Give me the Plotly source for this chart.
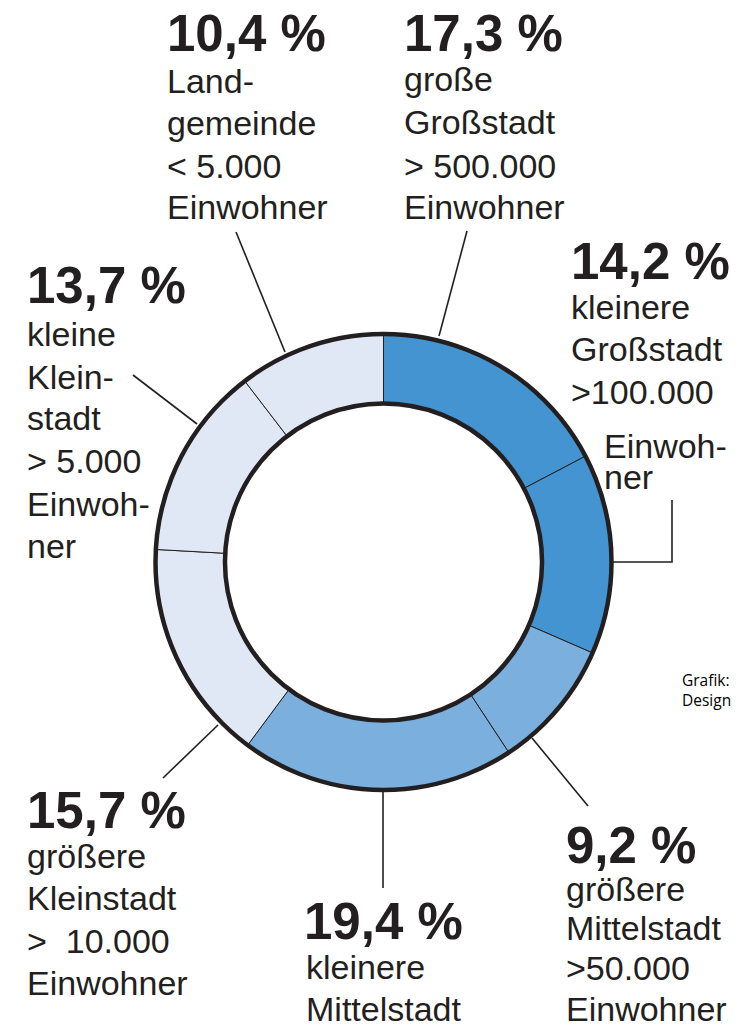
import plotly.graph_objects as go

# ---- data ----
categories = ["große Großstadt", "kleinere Großstadt", "größere Mittelstadt",
              "kleinere Mittelstadt", "größere Kleinstadt", "kleine Kleinstadt",
              "Landgemeinde"]
shares = [17.3, 14.2, 9.2, 19.4, 15.7, 13.7, 10.4]
pct_labels = ["17,3 %", "14,2 %", "9,2 %", "19,4 %", "15,7 %", "13,7 %", "10,4 %"]
desc_lines = [
    ["große", "Großstadt", "> 500.000", "Einwohner"],
    ["kleinere", "Großstadt", ">100.000", "Einwoh-", "ner"],
    ["größere", "Mittelstadt", ">50.000", "Einwohner"],
    ["kleinere", "Mittelstadt"],
    ["größere", "Kleinstadt", ">\u00a0\u00a010.000", "Einwohner"],
    ["kleine", "Klein-", "stadt", ">\u00a05.000", "Einwoh-", "ner"],
    ["Land-", "gemeinde", "<\u00a05.000", "Einwohner"],
]
colors = ["#4394d0", "#4394d0", "#7aafde", "#7aafde", "#e1e8f5", "#e1e8f5", "#e1e8f5"]

# ---- layout helpers (pixel -> paper) ----
W, H = 740, 1030
def px(x):
    return x / W
def py(y):
    return 1 - y / H

INK = "#231f20"
FONT = "Liberation Sans"
PCT_FS = 51
BODY_FS = 34

# label placement: (pct x, pct baseline), body x list, body baselines
pct_pos = [(403, 50), (570, 278), (565, 862), (303, 938), (26, 827), (26, 302), (166, 50)]
body_x = [
    [403] * 4,
    [570, 570, 570, 603, 603],
    [565] * 4,
    [305] * 2,
    [26] * 4,
    [26] * 6,
    [166] * 4,
]
body_base = [
    [90, 133, 177, 218],
    [318, 360, 403, 457, 488],
    [900, 939, 979, 1020],
    [978, 1020],
    [867, 909, 952, 994],
    [345, 388, 429, 472, 515, 557],
    [92, 134, 177, 218],
]

def top_from_baseline(base, fs):
    return base - 0.905 * fs

annotations = []
for i in range(len(categories)):
    x, b = pct_pos[i]
    annotations.append(dict(
        x=px(x), y=py(top_from_baseline(b, PCT_FS)), xref="paper", yref="paper",
        xanchor="left", yanchor="top", showarrow=False, text=pct_labels[i],
        font=dict(family=FONT, size=PCT_FS, color=INK, weight="bold"), borderpad=0))
    for line, lx, lb in zip(desc_lines[i], body_x[i], body_base[i]):
        annotations.append(dict(
            x=px(lx), y=py(top_from_baseline(lb, BODY_FS)), xref="paper", yref="paper",
            xanchor="left", yanchor="top", showarrow=False, text=line,
            font=dict(family=FONT, size=BODY_FS, color=INK), borderpad=0))

annotations.append(dict(
    x=px(681), y=py(668), xref="paper", yref="paper", xanchor="left", yanchor="top",
    showarrow=False, text="Grafik:<br>Design", align="left",
    font=dict(family="Open Sans", size=15.5, color="#000000"), borderpad=0))

# leader lines (pixel paths)
leaders = [
    [(439, 336), (467, 231)],
    [(612, 562), (672, 562), (672, 500)],
    [(532, 738), (588, 806)],
    [(383, 792), (383, 888)],
    [(218, 725), (163, 778)],
    [(197, 424), (133, 375)],
    [(285, 352), (236, 232)],
]
shapes = []
for pts in leaders:
    path = "M " + " L ".join(f"{px(x)},{py(y)}" for x, y in pts)
    shapes.append(dict(type="path", xref="paper", yref="paper", path=path,
                       line=dict(color=INK, width=1.6)))

# ring geometry
CX, CY, R = 383.5, 562, 228
HOLE = 0.695
dom = dict(x=[px(CX - R), px(CX + R)], y=[py(CY + R), py(CY - R)])

fig = go.Figure()
fig.add_trace(go.Pie(
    labels=categories, values=shares, sort=False, direction="clockwise", rotation=0,
    hole=HOLE, domain=dom, textinfo="none", hoverinfo="label+value",
    marker=dict(colors=colors, line=dict(color=INK, width=1)), showlegend=False))
fig.add_trace(go.Pie(
    labels=["ring"], values=[1], sort=False, hole=HOLE, domain=dom, textinfo="none",
    hoverinfo="skip", marker=dict(colors=["rgba(0,0,0,0)"], line=dict(color=INK, width=4.5)),
    showlegend=False))

fig.update_layout(
    width=W, height=H, margin=dict(l=0, r=0, t=0, b=0),
    paper_bgcolor="white", plot_bgcolor="white",
    annotations=annotations, shapes=shapes, showlegend=False)

fig.write_html("out.html", config={"displayModeBar": False},
               post_script="document.body.style.margin='0';document.body.style.overflow='hidden';")
